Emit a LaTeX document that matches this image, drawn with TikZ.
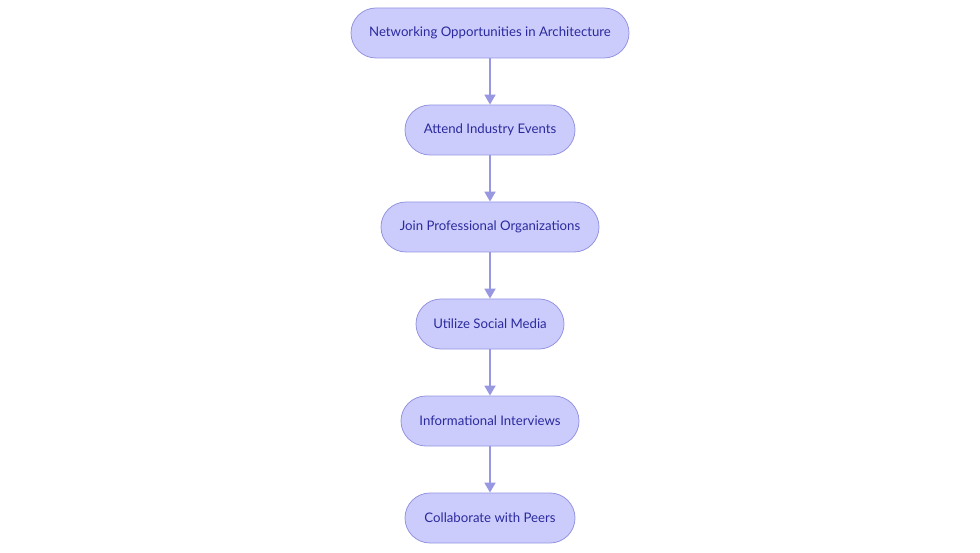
\documentclass[tikz,border=0pt]{standalone}
\usepackage{fontspec}
\setmainfont{Lato}
\usetikzlibrary{arrows.meta}
\definecolor{nodefill}{HTML}{CCCCFC}
\definecolor{nodedraw}{HTML}{9494E0}
\definecolor{edgecol}{HTML}{9797E2}
\definecolor{txtcol}{HTML}{2A2A9E}
\newcommand{\lowtxt}[1]{\raisebox{-1.2pt}{#1}}
\begin{document}
\begin{tikzpicture}[x=1pt,y=-1pt,
  stage/.style={draw=nodedraw, fill=nodefill, line width=0.8pt, rounded corners=25pt,
    minimum height=50pt, inner sep=0pt, text=txtcol, font=\fontsize{13.2}{16}\selectfont},
  link/.style={draw=edgecol, line width=1.8pt, -{Triangle[length=10pt,width=11pt]}}]
\useasboundingbox (0,0) rectangle (980,553);
\node[stage, minimum width=278pt] (n1) at (490,33) {\lowtxt{Networking Opportunities in Architecture}};
\node[stage, minimum width=170pt] (n2) at (490,130) {\lowtxt{Attend Industry Events}};
\node[stage, minimum width=218pt] (n3) at (490,227) {\lowtxt{Join Professional Organizations}};
\node[stage, minimum width=148pt] (n4) at (490,324) {\lowtxt{Utilize Social Media}};
\node[stage, minimum width=178pt] (n5) at (490,421) {\lowtxt{Informational Interviews}};
\node[stage, minimum width=170pt] (n6) at (490,518) {\lowtxt{Collaborate with Peers}};
\draw[link] (n1) -- (n2);
\draw[link] (n2) -- (n3);
\draw[link] (n3) -- (n4);
\draw[link] (n4) -- (n5);
\draw[link] (n5) -- (n6);
\end{tikzpicture}
\end{document}
